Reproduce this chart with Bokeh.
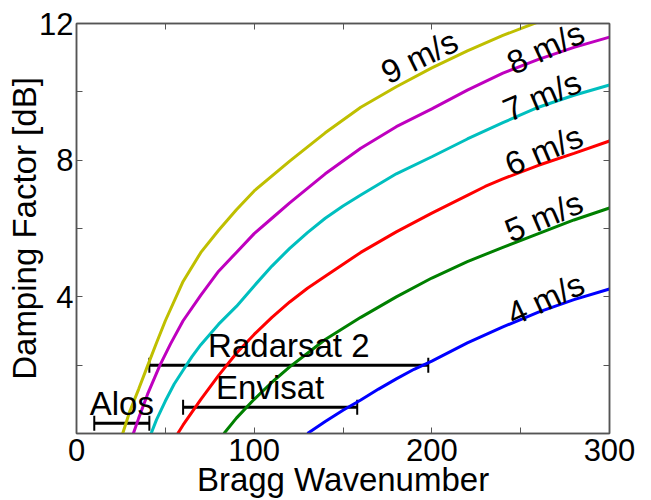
from bokeh.plotting import figure
from bokeh.models import (ColumnDataSource, FixedTicker, LinearAxis, Range1d,
                          Whisker, TeeHead)
from bokeh.embed import file_html
from bokeh.resources import INLINE
from bokeh.core.properties import value
import math

# ---- data ----
k_9 = [26, 30, 35, 40, 45, 50, 60, 70, 80, 90, 100, 120, 140, 160, 180, 200, 220, 240, 260]
d_9 = [0.0, 0.65, 1.3, 1.98, 2.65, 3.3, 4.45, 5.3, 5.95, 6.55, 7.1, 7.97, 8.8, 9.55, 10.15, 10.7, 11.2, 11.65, 12.05]

k_8 = [32, 35, 40, 47, 53, 60, 70, 80, 90, 100, 110, 120, 140, 160, 180, 200, 220, 240, 260, 280, 300]
d_8 = [0.0, 0.45, 1.15, 2.0, 2.63, 3.3, 4.05, 4.75, 5.3, 5.85, 6.3, 6.75, 7.6, 8.35, 8.98, 9.5, 10.05, 10.55, 10.95, 11.3, 11.6]

k_7 = [42, 45, 50, 55, 60, 65, 70, 80, 90, 100, 110, 120, 130, 140, 150, 160, 180, 200, 220, 240, 260, 280, 300]
d_7 = [0.0, 0.4, 0.95, 1.45, 1.85, 2.25, 2.6, 3.2, 3.72, 4.32, 4.9, 5.42, 5.88, 6.3, 6.66, 6.98, 7.6, 8.1, 8.62, 9.1, 9.55, 9.9, 10.2]

k_6 = [57, 60, 70, 80, 90, 100, 110, 120, 130, 140, 160, 180, 200, 220, 230, 240, 260, 280, 300]
d_6 = [0.0, 0.25, 1.0, 1.7, 2.35, 2.9, 3.4, 3.85, 4.25, 4.6, 5.3, 5.9, 6.45, 6.97, 7.23, 7.45, 7.85, 8.2, 8.56]

k_5 = [83, 90, 100, 110, 120, 130, 140, 160, 180, 200, 220, 240, 260, 280, 300]
d_5 = [0.0, 0.45, 1.0, 1.5, 1.95, 2.35, 2.75, 3.4, 4.0, 4.55, 5.03, 5.45, 5.85, 6.25, 6.6]

k_4 = [130, 140, 150, 160, 170, 180, 190, 200, 220, 240, 260, 280, 300]
d_4 = [0.0, 0.35, 0.68, 0.98, 1.3, 1.6, 1.88, 2.12, 2.65, 3.12, 3.55, 3.92, 4.23]

wind_labels = ["9 m/s", "8 m/s", "7 m/s", "6 m/s", "5 m/s", "4 m/s"]
wind_label_x = [193, 264, 262, 263, 263, 264]
wind_label_y = [11.03, 11.29, 9.88, 8.29, 6.35, 3.94]
wind_label_deg = [26, 25, 23, 23, 23, 25]

sensors = ["Radarsat 2", "Envisat", "Alos"]
sensor_level = [2.0, 0.77, 0.3]
sensor_k_min = [41, 60, 10]
sensor_k_max = [198, 158, 41]

x_ticks = [0, 100, 200, 300]
x_minor = [50, 150, 250]
y_ticks = [0, 4, 8, 12]
y_minor = [2, 6, 10]

FONT = "Liberation Sans"
FRAME = "#555555"

p = figure(width=648, height=500, x_range=Range1d(0, 300), y_range=Range1d(0, 12),
           output_backend="svg", toolbar_location=None,
           min_border_left=76, min_border_right=39, min_border_top=23, min_border_bottom=60)
p.grid.visible = False
p.outline_line_color = FRAME
p.outline_line_width = 1.5
p.background_fill_color = "white"
p.border_fill_color = "white"

def style_axis(ax, labels=True):
    ax.axis_line_color = FRAME
    ax.axis_line_width = 1.5
    ax.major_tick_line_color = FRAME
    ax.minor_tick_line_color = FRAME
    ax.major_tick_in = 6
    ax.major_tick_out = 0
    ax.minor_tick_in = 6
    ax.minor_tick_out = 0
    ax.major_tick_line_width = 1
    ax.minor_tick_line_width = 1
    ax.major_label_text_font = FONT
    ax.major_label_text_color = "black"
    if labels:
        ax.major_label_text_font_size = "31px"
    else:
        ax.major_label_text_font_size = "0px"
        ax.major_label_text_alpha = 0

xt = FixedTicker(ticks=x_ticks, minor_ticks=x_minor)
yt = FixedTicker(ticks=y_ticks, minor_ticks=y_minor)

p.xaxis.ticker = xt
p.yaxis.ticker = yt
style_axis(p.xaxis[0])
style_axis(p.yaxis[0])
p.yaxis.major_label_overrides = {0: ""}
p.xaxis.major_label_standoff = 5
p.yaxis.major_label_standoff = 3
p.xaxis.axis_label = "Bragg Wavenumber"
p.yaxis.axis_label = "Damping Factor [dB]"
for ax in (p.xaxis[0], p.yaxis[0]):
    ax.axis_label_text_font = FONT
    ax.axis_label_text_font_style = "normal"
    ax.axis_label_text_color = "black"
p.xaxis.axis_label_text_font_size = "33px"
p.yaxis.axis_label_text_font_size = "33px"
p.xaxis.axis_label_standoff = -3
p.yaxis.axis_label_standoff = -7

top = LinearAxis(ticker=FixedTicker(ticks=x_ticks, minor_ticks=x_minor))
style_axis(top, labels=False)
p.add_layout(top, "above")
right = LinearAxis(ticker=FixedTicker(ticks=y_ticks, minor_ticks=y_minor))
style_axis(right, labels=False)
p.add_layout(right, "right")

series = [(k_9, d_9, "#bfbf00"), (k_8, d_8, "#bf00bf"), (k_7, d_7, "#00bfbf"),
          (k_6, d_6, "#ff0000"), (k_5, d_5, "#008000"), (k_4, d_4, "#0000ff")]
for kx, dy, col in series:
    p.line(kx, dy, line_color=col, line_width=3)

lab_src = ColumnDataSource(dict(x=wind_label_x, y=wind_label_y, text=wind_labels,
                                angle=[math.radians(a) for a in wind_label_deg]))
p.text(x="x", y="y", text="text", angle="angle", source=lab_src,
       text_align="center", text_baseline="middle",
       text_font=value(FONT), text_font_size=value("33px"), text_color="black")

bar_src = ColumnDataSource(dict(base=sensor_level, lower=sensor_k_min, upper=sensor_k_max,
                                mid=[(a + b) / 2 for a, b in zip(sensor_k_min, sensor_k_max)],
                                lab_y=[v + 0.03 for v in sensor_level], text=sensors))
wh = Whisker(source=bar_src, base="base", lower="lower", upper="upper", dimension="width",
             line_color="black", line_width=3,
             lower_head=TeeHead(size=15, line_color="black", line_width=2),
             upper_head=TeeHead(size=15, line_color="black", line_width=2))
p.add_layout(wh)
p.text(x="mid", y="lab_y", text="text", source=bar_src,
       text_align="center", text_baseline="bottom",
       text_font=value(FONT), text_font_size=value("33px"), text_color="black")

open("out.html", "w").write(file_html(p, INLINE))
